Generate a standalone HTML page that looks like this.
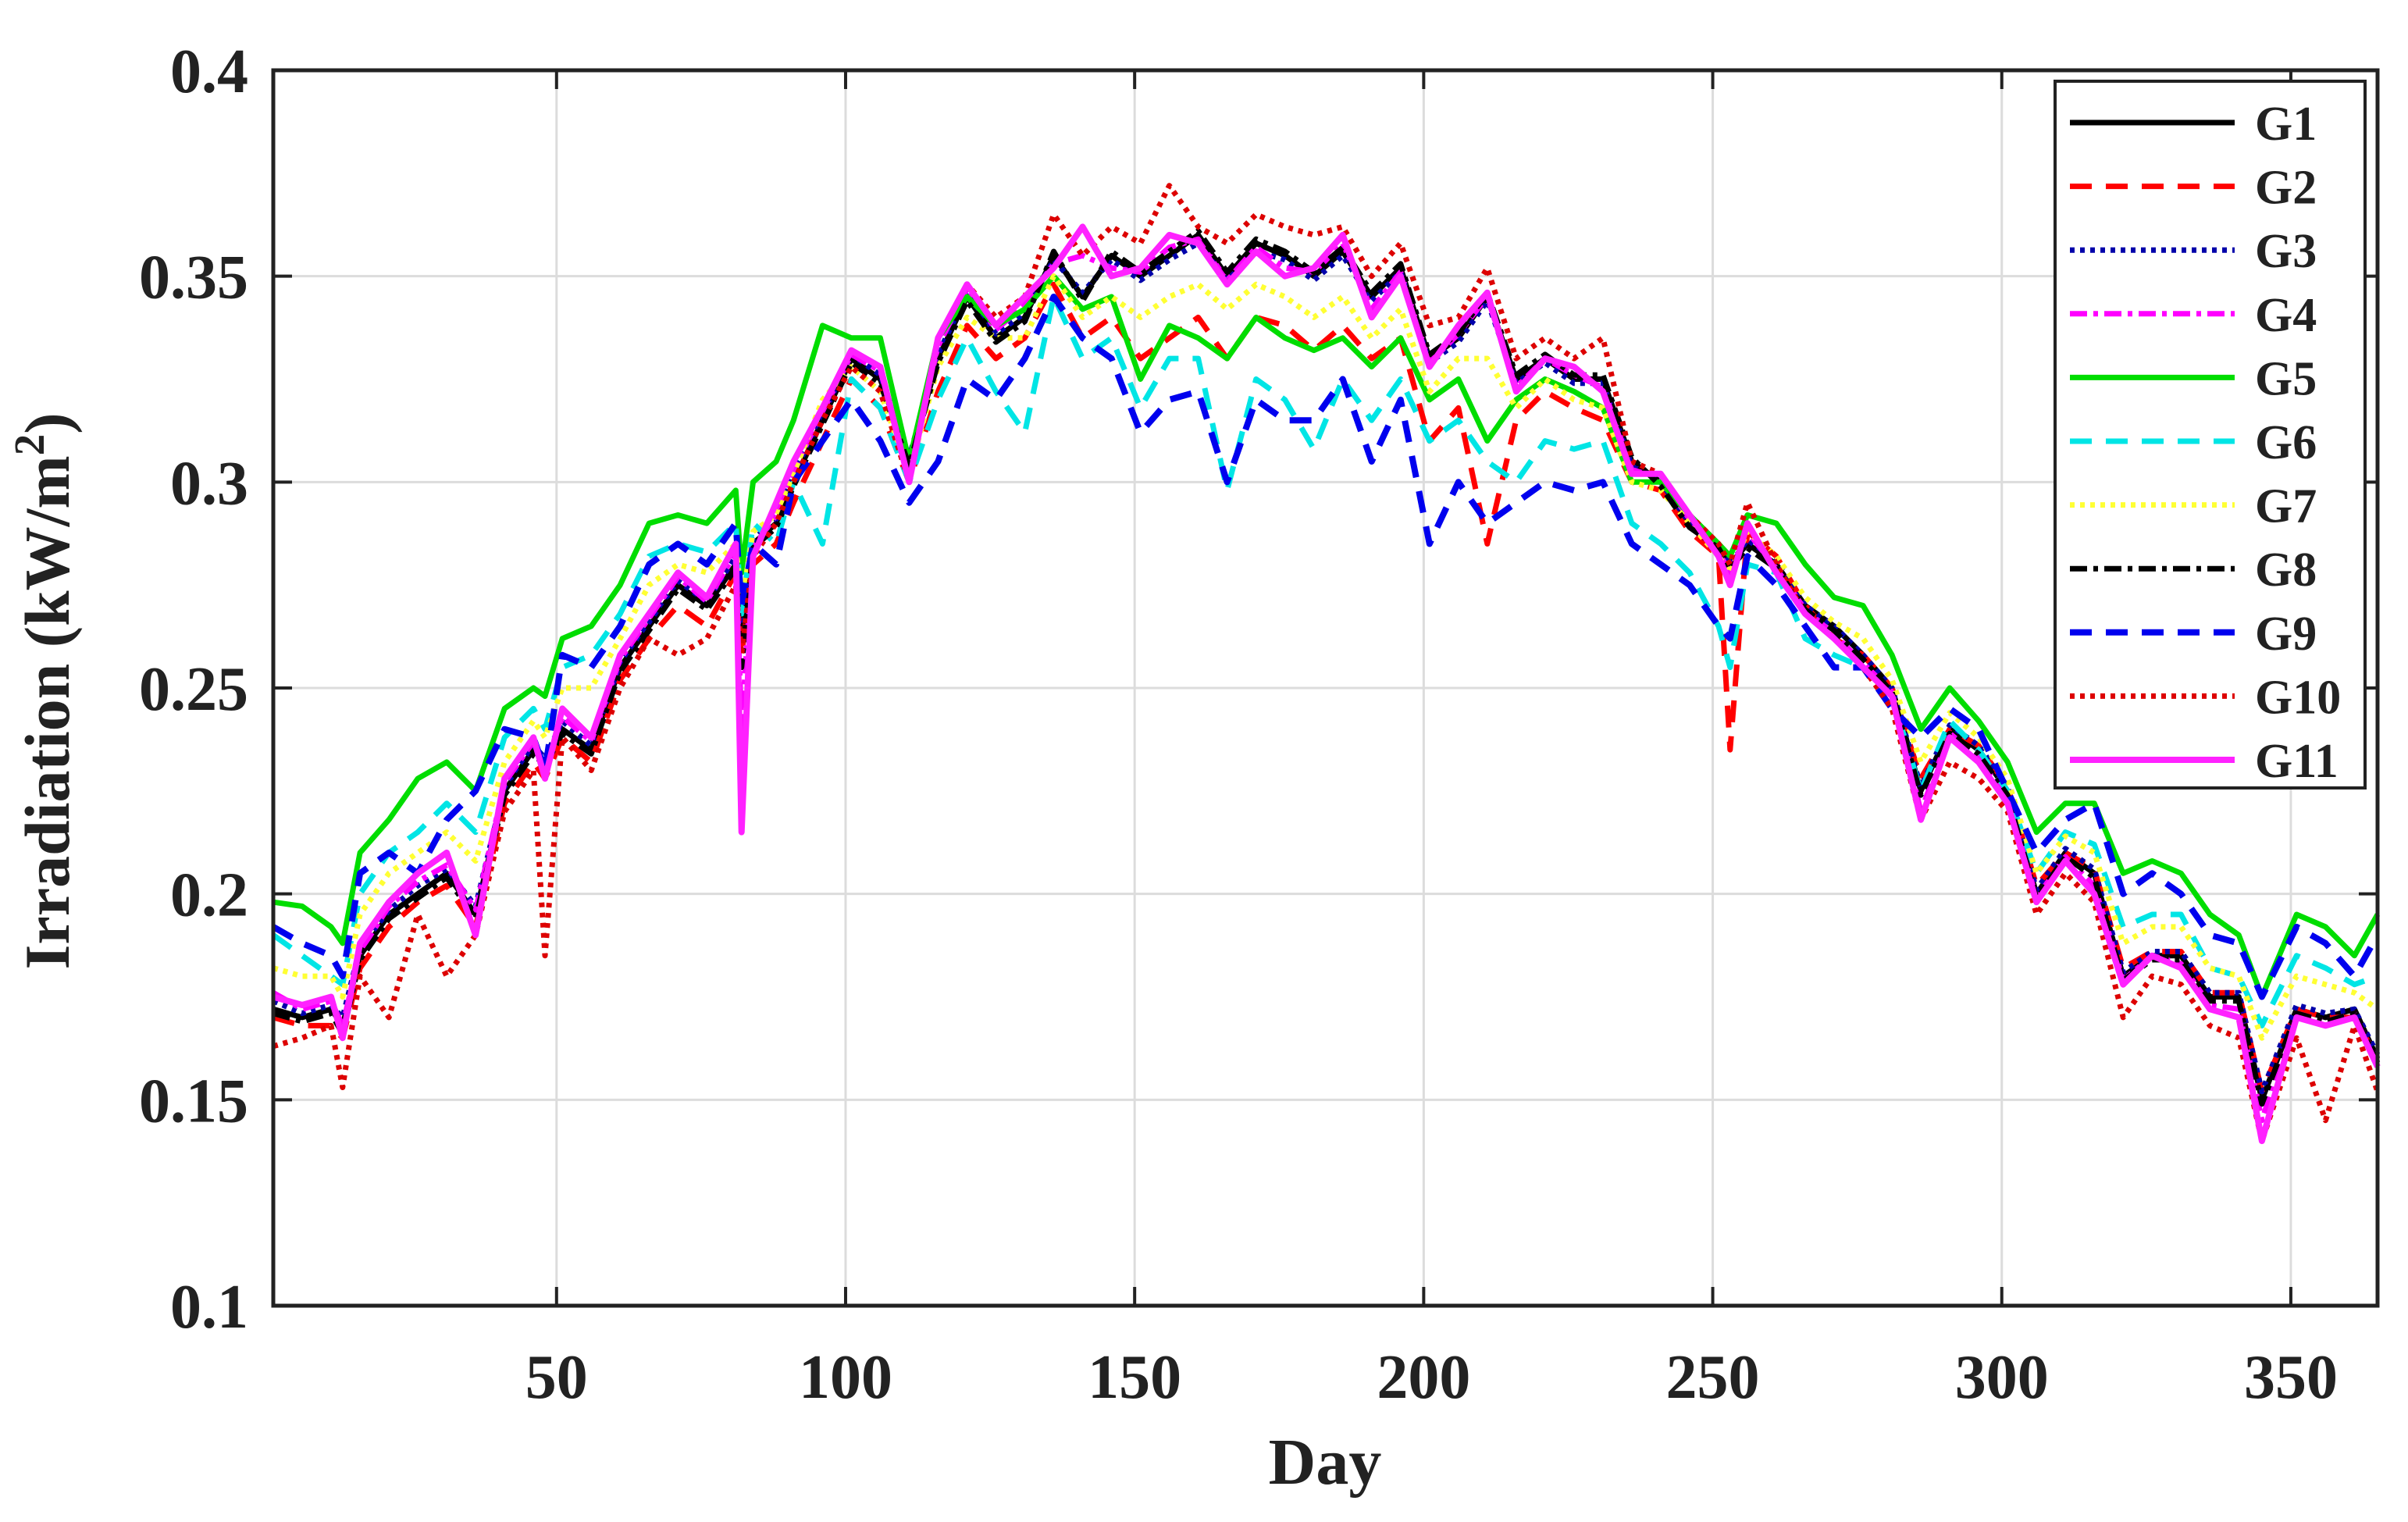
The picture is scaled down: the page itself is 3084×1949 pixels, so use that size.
<!DOCTYPE html>
<html><head><meta charset="utf-8"><style>
html,body{margin:0;padding:0;background:#fff;}
svg{display:block;}
text{font-family:"Liberation Serif",serif;font-weight:bold;fill:#222;}
</style></head><body>
<svg id="chart" width="3084" height="1949" viewBox="0 0 3084 1949" xmlns="http://www.w3.org/2000/svg">
<g id="grid"></g>
<g id="series"></g>
<g id="axes"></g>
<text x="88" y="885" font-size="82" text-anchor="middle" transform="rotate(-90 88 885)">Irradiation (kW/m<tspan font-size="55" dy="-32">2</tspan><tspan dy="32">)</tspan></text>
<text x="1697" y="1900" font-size="84" text-anchor="middle">Day</text>
<g id="legend"></g>
</svg>
<script>
const days=[1,6,11,13,16,21,26,31,36,41,46,48,51,56,61,66,71,76,81,82,84,88,91,96,101,106,111,116,121,126,131,136,141,146,151,156,161,166,171,176,181,186,191,196,201,206,211,216,221,226,231,236,241,246,251,253,256,261,266,271,276,281,286,291,296,301,306,311,316,321,326,331,336,341,345,351,356,361,365];
const g1=[.172,.170,.172,.168,.185,.195,.200,.205,.195,.225,.235,.232,.240,.235,.255,.265,.275,.270,.280,.262,.285,.290,.300,.315,.330,.325,.305,.330,.345,.335,.340,.355,.345,.355,.350,.355,.360,.350,.358,.355,.350,.356,.345,.352,.330,.335,.345,.325,.330,.325,.325,.305,.300,.290,.285,.280,.285,.280,.270,.265,.258,.250,.225,.240,.235,.225,.200,.210,.205,.180,.185,.185,.175,.175,.150,.172,.170,.172,.160];
const g2=[.170,.168,.168,.165,.182,.192,.198,.202,.192,.222,.232,.228,.238,.232,.252,.262,.270,.265,.278,.258,.280,.285,.295,.310,.325,.318,.300,.322,.338,.330,.335,.348,.335,.340,.330,.335,.340,.330,.340,.338,.332,.338,.330,.335,.310,.318,.285,.315,.322,.318,.315,.300,.298,.288,.282,.235,.288,.282,.270,.262,.258,.250,.228,.240,.236,.226,.202,.210,.206,.182,.186,.186,.176,.176,.152,.172,.170,.170,.160];
const g3=[.174,.171,.173,.170,.187,.196,.202,.206,.197,.226,.236,.233,.242,.236,.256,.266,.276,.271,.282,.264,.286,.291,.302,.316,.331,.326,.306,.331,.346,.336,.341,.354,.346,.354,.349,.354,.358,.349,.356,.354,.349,.355,.344,.351,.329,.334,.344,.324,.329,.324,.324,.304,.300,.290,.284,.280,.286,.281,.270,.265,.258,.250,.226,.241,.236,.226,.201,.211,.206,.181,.186,.186,.176,.176,.152,.173,.171,.172,.161];
const g4=[.176,.172,.174,.168,.186,.197,.203,.207,.196,.227,.237,.230,.243,.237,.257,.267,.277,.271,.283,.240,.284,.292,.303,.317,.331,.327,.303,.333,.347,.337,.343,.353,.355,.352,.351,.357,.359,.349,.357,.352,.351,.358,.342,.351,.329,.336,.345,.323,.330,.326,.323,.303,.301,.291,.283,.278,.288,.279,.269,.263,.256,.249,.220,.239,.233,.223,.199,.209,.202,.179,.185,.183,.173,.172,.145,.171,.169,.171,.159];
const g5=[.198,.197,.192,.188,.210,.218,.228,.232,.225,.245,.250,.248,.262,.265,.275,.290,.292,.290,.298,.278,.300,.305,.315,.338,.335,.335,.305,.335,.345,.338,.342,.350,.342,.345,.325,.338,.335,.330,.340,.335,.332,.335,.328,.335,.320,.325,.310,.320,.325,.322,.318,.300,.300,.292,.285,.282,.292,.290,.280,.272,.270,.258,.240,.250,.242,.232,.215,.222,.222,.205,.208,.205,.195,.190,.175,.195,.192,.185,.195];
const g6=[.190,.185,.180,.178,.200,.210,.215,.222,.215,.238,.245,.240,.255,.258,.268,.282,.285,.283,.290,.268,.290,.285,.300,.285,.325,.318,.300,.320,.335,.322,.312,.345,.330,.335,.318,.330,.330,.298,.325,.320,.308,.325,.315,.325,.310,.315,.305,.300,.310,.308,.310,.290,.285,.278,.265,.255,.280,.278,.262,.258,.255,.248,.225,.242,.235,.225,.205,.215,.212,.192,.195,.195,.182,.180,.168,.185,.182,.178,.180];
const g7=[.182,.180,.180,.175,.195,.205,.210,.215,.208,.232,.242,.238,.250,.250,.262,.275,.280,.278,.285,.270,.288,.292,.302,.320,.328,.322,.302,.328,.340,.335,.335,.350,.340,.345,.340,.345,.348,.342,.348,.345,.340,.345,.335,.342,.322,.330,.330,.318,.325,.320,.318,.300,.298,.290,.282,.278,.288,.282,.272,.266,.262,.252,.232,.244,.238,.228,.205,.214,.210,.188,.192,.192,.182,.180,.165,.180,.178,.176,.172];
const g8=[.171,.169,.171,.166,.184,.194,.199,.204,.194,.224,.234,.231,.239,.234,.254,.264,.274,.269,.279,.255,.284,.289,.299,.314,.329,.324,.304,.329,.344,.334,.339,.356,.344,.356,.351,.356,.361,.351,.359,.356,.351,.357,.346,.353,.331,.336,.346,.326,.331,.326,.326,.306,.299,.289,.284,.279,.284,.279,.269,.264,.257,.249,.224,.239,.234,.224,.199,.209,.204,.179,.184,.184,.174,.174,.149,.171,.169,.171,.159];
const g9=[.192,.188,.185,.180,.205,.210,.205,.218,.225,.240,.238,.230,.258,.255,.265,.280,.285,.280,.290,.270,.285,.280,.300,.310,.320,.310,.295,.305,.325,.320,.330,.345,.335,.330,.312,.320,.322,.300,.320,.315,.315,.325,.305,.320,.285,.300,.290,.295,.300,.298,.300,.285,.280,.275,.265,.262,.282,.275,.265,.255,.255,.245,.238,.245,.240,.225,.210,.218,.222,.200,.205,.200,.190,.188,.175,.192,.188,.180,.190];
const g10=[.163,.165,.168,.153,.180,.170,.195,.180,.190,.220,.230,.185,.238,.230,.250,.262,.258,.262,.275,.258,.282,.290,.300,.315,.328,.322,.300,.335,.348,.340,.345,.365,.355,.362,.358,.372,.362,.358,.365,.362,.360,.362,.350,.358,.338,.340,.352,.330,.335,.330,.335,.305,.302,.292,.285,.280,.295,.280,.268,.262,.255,.245,.218,.232,.228,.220,.195,.205,.198,.170,.180,.178,.168,.165,.140,.165,.145,.168,.152];
const g11=[.175,.173,.175,.165,.188,.198,.205,.210,.190,.228,.238,.228,.245,.238,.258,.268,.278,.272,.285,.215,.282,.295,.305,.318,.332,.328,.300,.335,.348,.338,.345,.352,.362,.350,.352,.360,.358,.348,.356,.350,.352,.360,.340,.350,.328,.338,.346,.322,.330,.328,.322,.302,.302,.292,.282,.275,.290,.278,.268,.262,.255,.248,.218,.238,.232,.222,.198,.208,.200,.178,.185,.182,.172,.170,.140,.170,.168,.170,.158];
const seriesNames=["G1","G2","G3","G4","G5","G6","G7","G8","G9","G10","G11"];
const seriesValues=[g1,g2,g3,g4,g5,g6,g7,g8,g9,g10,g11];
const xTicks=[50,100,150,200,250,300,350];
const yTicks=[0.1,0.15,0.2,0.25,0.3,0.35,0.4];
const yTickLabels=["0.1","0.15","0.2","0.25","0.3","0.35","0.4"];

const NS="http://www.w3.org/2000/svg";
const L=350,R=3045,T=90,B=1672;
const xMin=1,xMax=365,yMin=0.1,yMax=0.4;
function xs(d){return L+(d-xMin)/(xMax-xMin)*(R-L);}
function ys(v){return B-(v-yMin)/(yMax-yMin)*(B-T);}
function mk(tag,attrs,parent){const e=document.createElementNS(NS,tag);for(const k in attrs)e.setAttribute(k,attrs[k]);parent.appendChild(e);return e;}
const styles=[
 {c:"#000000",d:"",w:7},
 {c:"#ff0000",d:"28 18",w:7},
 {c:"#0000aa",d:"6 7",w:7},
 {c:"#ff00ff",d:"22 8 6 8",w:7},
 {c:"#00dd00",d:"",w:7},
 {c:"#00e5e5",d:"28 18",w:7},
 {c:"#ffff33",d:"6 7",w:7},
 {c:"#000000",d:"22 8 6 8",w:7},
 {c:"#0000ee",d:"28 18",w:8},
 {c:"#dd0000",d:"6 7",w:7},
 {c:"#ff22ff",d:"",w:8}
];
const grid=document.getElementById("grid");
xTicks.forEach(t=>{
 const l=mk("line",{x1:xs(t),x2:xs(t),y1:T,y2:B,stroke:"#dcdcdc","stroke-width":3},grid);
 
 
});
yTicks.forEach(t=>{
 const l=mk("line",{x1:L,x2:R,y1:ys(t),y2:ys(t),stroke:"#dcdcdc","stroke-width":3},grid);
 
 
});
const sg=document.getElementById("series");
seriesValues.forEach((vals,i)=>{
 const n=Math.min(vals.length,days.length);
 let p="";
 for(let j=0;j<n;j++)p+=(j?"L":"M")+xs(days[j]).toFixed(1)+" "+ys(vals[j]).toFixed(1);
 const s=styles[i];
 const path=mk("path",{d:p,fill:"none",stroke:s.c,"stroke-width":s.w,"stroke-linejoin":"round"},sg);
 if(s.d)path.setAttribute("stroke-dasharray",s.d);
 
 
});
const ax=document.getElementById("axes");
const frame=mk("rect",{x:L,y:T,width:R-L,height:B-T,fill:"none",stroke:"#222","stroke-width":5},ax);


xTicks.forEach(t=>{
 const tk=mk("line",{x1:xs(t),x2:xs(t),y1:B,y2:B-24,stroke:"#222","stroke-width":4},ax);
 
 
 const tt=mk("line",{x1:xs(t),x2:xs(t),y1:T,y2:T+24,stroke:"#222","stroke-width":4},ax);
 
 
 const lb=mk("text",{x:xs(t),y:1790,"font-size":80,"text-anchor":"middle"},ax);
 lb.textContent=String(t);
 
 
});
yTicks.forEach((t,i)=>{
 const tk=mk("line",{x1:L,x2:L+24,y1:ys(t),y2:ys(t),stroke:"#222","stroke-width":4},ax);
 
 
 const tr=mk("line",{x1:R,x2:R-24,y1:ys(t),y2:ys(t),stroke:"#222","stroke-width":4},ax);
 
 
 const lb=mk("text",{x:318,y:ys(t)+28,"font-size":80,"text-anchor":"end"},ax);
 lb.textContent=yTickLabels[i];
 
 
});
const lg=document.getElementById("legend");
const box=mk("rect",{x:2632,y:104,width:397,height:905,fill:"#fff",stroke:"#222","stroke-width":4},lg);


seriesNames.forEach((nm,i)=>{
 const y=157+i*81.6;const s=styles[i];
 const ln=mk("line",{x1:2651,x2:2862,y1:y,y2:y,stroke:s.c,"stroke-width":s.w},lg);
 if(s.d)ln.setAttribute("stroke-dasharray",s.d);
 
 
 const tx=mk("text",{x:2888,y:y+22,"font-size":62},lg);
 tx.textContent=nm;
 
 
});
</script>
</body></html>
